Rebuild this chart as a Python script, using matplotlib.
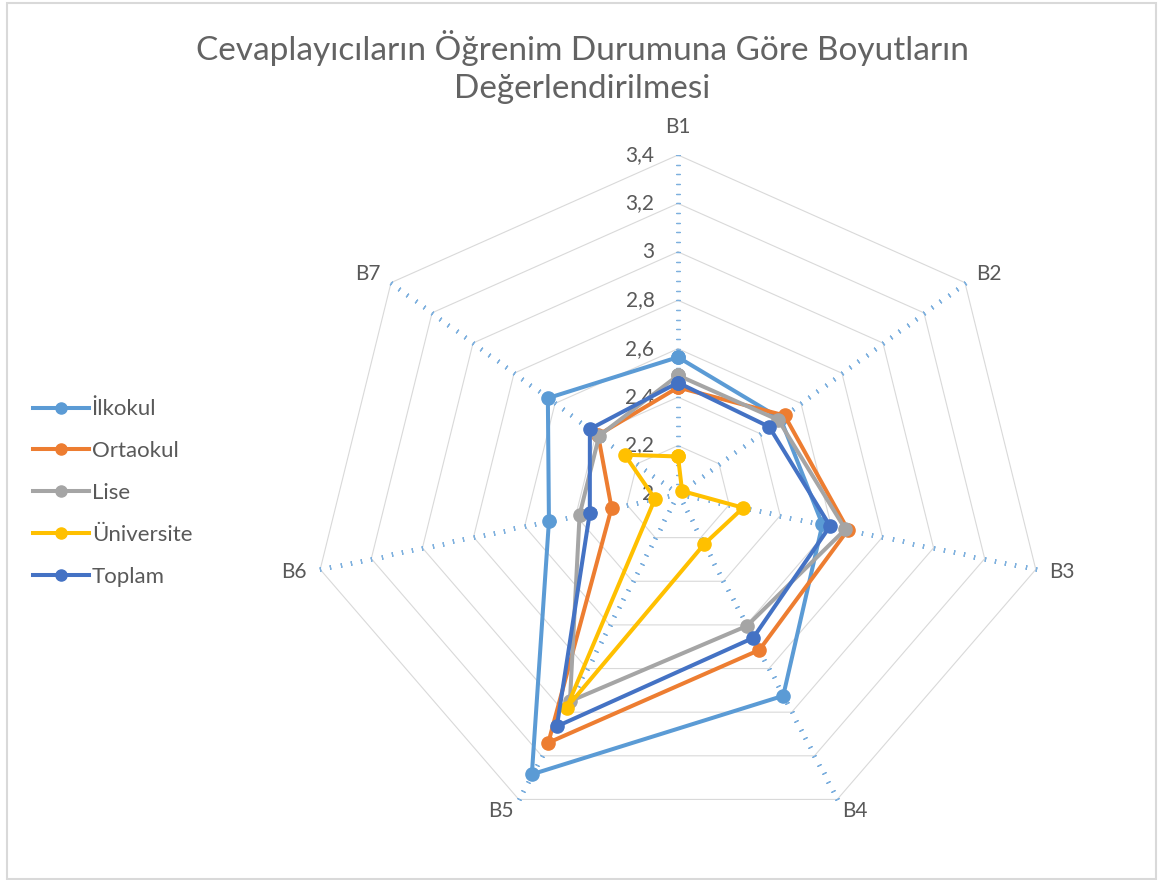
import numpy as np
import matplotlib
matplotlib.use('Agg')
import matplotlib.pyplot as plt
from matplotlib.lines import Line2D
from matplotlib.patches import Rectangle

# ---------------- data ----------------
categories = ['B1', 'B2', 'B3', 'B4', 'B5', 'B6', 'B7']
ilkokul    = [2.565, 2.50, 2.565, 2.925, 3.285, 2.505, 2.635]
ortaokul   = [2.44, 2.52, 2.665, 2.715, 3.14, 2.26, 2.39]
lise       = [2.49, 2.49, 2.655, 2.605, 2.95, 2.385, 2.385]
universite = [2.155, 2.02, 2.255, 2.23, 2.98, 2.09, 2.26]
toplam     = [2.46, 2.445, 2.595, 2.66, 3.065, 2.345, 2.43]
series_names = ['İlkokul', 'Ortaokul', 'Lise', 'Üniversite', 'Toplam']
tick_values = [2.0, 2.2, 2.4, 2.6, 2.8, 3.0, 3.2, 3.4]
tick_labels = ['2', '2,2', '2,4', '2,6', '2,8', '3', '3,2', '3,4']
title = 'Cevaplayıcıların Öğrenim Durumuna Göre Boyutların\nDeğerlendirilmesi'

# ---------------- style ----------------
colors = ['#5B9BD5', '#ED7D31', '#A5A5A5', '#FFC000', '#4472C4']
text_color = '#595959'
plt.rcParams['font.family'] = ['Lato', 'DejaVu Sans']

RMIN, RMAX = tick_values[0], tick_values[-1]
W, H = 1159, 880
fig = plt.figure(figsize=(W / 100, H / 100), dpi=100)
cx, cy = 678, H - 494
Rx, Ry = 367, 339
ax = fig.add_axes([(cx - Rx) / W, (cy - Ry) / H, 2 * Rx / W, 2 * Ry / H])
ax.set_xlim(-1, 1)
ax.set_ylim(-1, 1)
ax.axis('off')

n = len(categories)
theta = 2 * np.pi * np.arange(n) / n


def to_xy(vals):
    r = (np.asarray(vals, dtype=float) - RMIN) / (RMAX - RMIN)
    return r * np.sin(theta), r * np.cos(theta)


# grid rings (heptagons)
for v in tick_values[1:]:
    x, y = to_xy([v] * n)
    ax.plot(np.append(x, x[0]), np.append(y, y[0]), color='#D9D9D9', lw=0.8,
            zorder=1, solid_joinstyle='miter')

# spokes drawn as small perpendicular tick marks
minor = np.linspace(RMIN, RMAX, 36)[1:]
rm = (minor - RMIN) / (RMAX - RMIN)
for k in range(n):
    dx, dy = np.sin(theta[k]) * Rx, np.cos(theta[k]) * Ry
    ang = np.degrees(np.arctan2(dy, dx))
    ax.plot(rm * np.sin(theta[k]), rm * np.cos(theta[k]), ls='none',
            marker=(2, 2, ang), ms=3.2, mew=0.9, color='#7EB0DE', zorder=2)

# radial tick labels along B1
for v, lab in zip(tick_values, tick_labels):
    r = (v - RMIN) / (RMAX - RMIN)
    ax.annotate(lab, (0, r), xytext=(-17, 0), textcoords='offset points',
                ha='right', va='center', fontsize=15, color=text_color, zorder=3)

# category labels
label_offsets = [(0, 20), (17, 6.5), (19, -2), (13, -8.6), (-13, -8.6), (-19, -2), (-17, 6.5)]
ox, oy = to_xy([RMAX] * n)
for k, cat in enumerate(categories):
    ax.annotate(cat, (ox[k], oy[k]), xytext=label_offsets[k], textcoords='offset points',
                ha='center', va='center', fontsize=15, color=text_color)

# series
all_series = [ilkokul, ortaokul, lise, universite, toplam]
handles = []
for vals, name, col in zip(all_series, series_names, colors):
    x, y = to_xy(vals)
    ax.plot(np.append(x, x[0]), np.append(y, y[0]), color=col, lw=2.9,
            marker='o', ms=9.5, zorder=5, solid_joinstyle='round')
    handles.append(Line2D([], [], color=col, lw=2.9, marker='o', ms=8))

fig.legend(handles, series_names, loc='center left',
           bbox_to_anchor=(33 / W, (H - 493) / H), frameon=False,
           fontsize=16, labelcolor=text_color, handlelength=2.5,
           handletextpad=0.14, labelspacing=0.98, borderpad=0, borderaxespad=0)

# title
fig.text(582 / W, 1 - 67 / H, title, ha='center', va='center', fontsize=24,
         color='#636363', linespacing=1.3)

# chart frame
fig.patches.append(Rectangle((7 / W, 1 / H), (1156 - 7) / W, (877 - 1) / H,
                             transform=fig.transFigure, fill=False,
                             ec='#D9D9D9', lw=1.5))

fig.savefig('out.png', dpi=100, facecolor='white')
